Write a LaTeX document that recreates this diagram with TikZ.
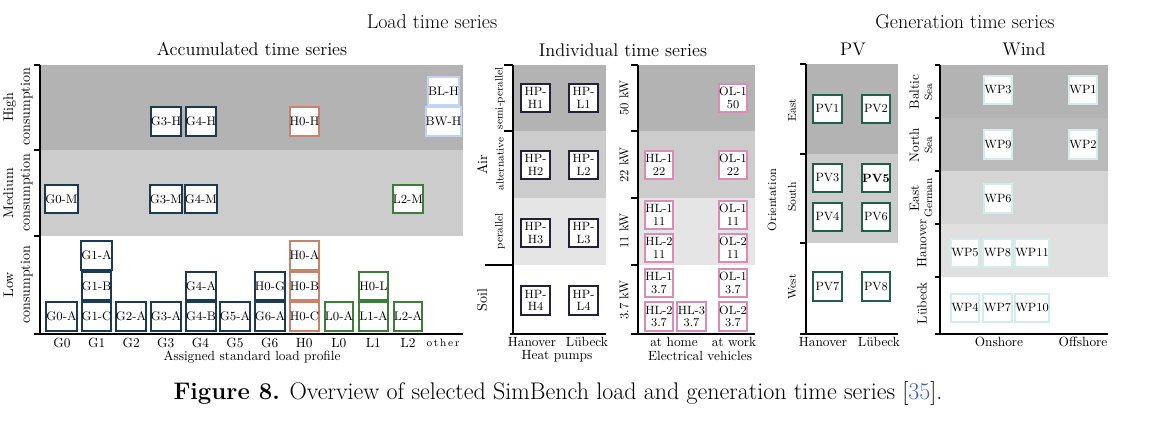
\documentclass[tikz,border=0pt]{standalone}
\usepackage{fontspec}
\usepackage{tikz}
\usepackage{amsmath}

\definecolor{gcol}{RGB}{30,58,82}
\definecolor{hcol}{RGB}{200,130,110}
\definecolor{lcol}{RGB}{60,125,58}
\definecolor{bcol}{RGB}{195,211,242}
\definecolor{hpcol}{RGB}{34,32,60}
\definecolor{evcol}{RGB}{217,140,181}
\definecolor{pvcol}{RGB}{31,95,75}
\definecolor{wpcol}{RGB}{211,236,236}
\definecolor{bandA}{RGB}{179,179,179}
\definecolor{bandB}{RGB}{204,204,204}
\definecolor{bandC}{RGB}{229,229,229}
\definecolor{windB}{RGB}{186,186,186}
\definecolor{windC}{RGB}{213,213,213}
\definecolor{windD}{RGB}{224,224,224}
\definecolor{citecol}{RGB}{59,95,196}

\tikzset{
  maintitle/.style={font=\fontsize{15}{17}\selectfont},
  subtitle/.style={font=\fontsize{13.7}{15}\selectfont},
  axislabel/.style={font=\fontsize{10}{11}\selectfont},
  sidelabel/.style={rotate=90, align=center, font=\fontsize{10.5}{12.5}\selectfont},
  smalllabel/.style={rotate=90, font=\fontsize{8}{9}\selectfont},
  axisline/.style={line width=0.8pt},
  profbox/.style={draw=#1, fill=white, line width=1.5pt, minimum width=21.5pt,
    minimum height=21.5pt, inner sep=0pt, font=\fontsize{9.3}{10}\selectfont},
  twobox/.style={profbox=#1, align=center, font=\fontsize{9}{9.5}\selectfont},
  genbox/.style={profbox=#1, font=\fontsize{9}{10}\selectfont}
}

\begin{document}
\begin{tikzpicture}[x=0.75pt,y=-0.75pt]
\useasboundingbox (0,0) rectangle (1158,424);

% titles
\node[maintitle] (loadtitle) at (432,22) {Load time series};
\node[maintitle] (gentitle)  at (965,22) {Generation time series};
\node[subtitle] (acctitle) at (252,49) {Accumulated time series};
\node[subtitle] (indtitle) at (623,50) {Individual time series};
\node[subtitle] (pvtitle)  at (853,49) {PV};
\node[subtitle] (windtitle) at (1024,49) {Wind};

% accumulated time series
\fill[bandA] (40,65) rectangle (463,150);
\fill[bandB] (40,150) rectangle (463,236);
\draw[axisline] (40,65) -- (40,334);
\draw[axisline] (34,334) -- (463,334);
\draw[axisline] (34,65) -- (40,65);
\draw[axisline] (34,150) -- (40,150);
\draw[axisline] (34,236) -- (40,236);
\node[sidelabel] (highlbl) at (18,107) {High\\consumption};
\node[sidelabel] (medlbl)  at (18,193) {Medium\\consumption};
\node[sidelabel] (lowlbl)  at (18,285) {Low\\consumption};
\foreach \lbl [count=\i from 0] in {G0,G1,G2,G3,G4,G5,G6,H0,L0,L1,L2}
  \node[axislabel] (col\lbl) at ({62+34.6*\i},343) {\lbl};
\node[axislabel, font=\fontsize{8}{9}\selectfont] (colother) at (443,343) {o\,t\,h\,e\,r};
\node[axislabel] (slplbl) at (252,357) {Assigned standard load profile};

% high consumption
\node[profbox=gcol] (g3h) at (166,121.5) {G3-H};
\node[profbox=gcol] (g4h) at (201,121.5) {G4-H};
\node[profbox=hcol] (h0h) at (304.5,121.5) {H0-H};
\node[profbox=bcol] (blh) at (443.5,91) {BL-H};
\node[profbox=bcol] (bwh) at (443.5,121.5) {BW-H};

% medium consumption
\node[profbox=gcol] (g0m) at (61.5,199) {G0-M};
\node[profbox=gcol] (g3m) at (166,199) {G3-M};
\node[profbox=gcol] (g4m) at (201,199) {G4-M};
\node[profbox=lcol] (l2m) at (408,199) {L2-M};

% low consumption
\node[profbox=gcol] (g0a) at (61.5,316.5) {G0-A};
\node[profbox=gcol] (g1c) at (96.5,316.5) {G1-C};
\node[profbox=gcol] (g1b) at (96.5,286) {G1-B};
\node[profbox=gcol] (g1a) at (96.5,255.5) {G1-A};
\node[profbox=gcol] (g2a) at (131,316.5) {G2-A};
\node[profbox=gcol] (g3a) at (166,316.5) {G3-A};
\node[profbox=gcol] (g4b) at (201,316.5) {G4-B};
\node[profbox=gcol] (g4a) at (201,286) {G4-A};
\node[profbox=gcol] (g5a) at (235,316.5) {G5-A};
\node[profbox=gcol] (g6a) at (270,316.5) {G6-A};
\node[profbox=gcol] (h0g) at (270,286) {H0-G};
\node[profbox=hcol] (h0c) at (304.5,316.5) {H0-C};
\node[profbox=hcol] (h0b) at (304.5,286) {H0-B};
\node[profbox=hcol] (h0a) at (304.5,255.5) {H0-A};
\node[profbox=lcol] (l0a) at (339,316.5) {L0-A};
\node[profbox=lcol] (l1a) at (373.5,316.5) {L1-A};
\node[profbox=lcol] (h0l) at (373.5,286) {H0-L};
\node[profbox=lcol] (l2a) at (408,316.5) {L2-A};

% heat pumps
\fill[bandA] (513,65) rectangle (606,131);
\fill[bandB] (513,131) rectangle (606,198);
\fill[bandC] (513,198) rectangle (606,265);
\draw[axisline] (513,65) -- (513,334);
\draw[axisline] (510,334) -- (606,334);
\draw[axisline] (504,65) -- (513,65);
\draw[axisline] (504,131) -- (513,131);
\draw[axisline] (485,265) -- (513,265);
\node[smalllabel] (semilbl) at (500,98) {semi-perallel};
\node[smalllabel] (altlbl)  at (500,164) {alternative};
\node[smalllabel] (parlbl)  at (500,231) {perallel};
\node[sidelabel] (airlbl)  at (482,165) {Air};
\node[sidelabel] (soillbl) at (482,300) {Soil};
\node[twobox=hpcol] (hph1) at (535.5,98) {HP-\\H1};
\node[twobox=hpcol] (hpl1) at (583.5,98) {HP-\\L1};
\node[twobox=hpcol] (hph2) at (535.5,165) {HP-\\H2};
\node[twobox=hpcol] (hpl2) at (583.5,165) {HP-\\L2};
\node[twobox=hpcol] (hph3) at (535.5,233) {HP-\\H3};
\node[twobox=hpcol] (hpl3) at (583.5,233) {HP-\\L3};
\node[twobox=hpcol] (hph4) at (535.5,300.5) {HP-\\H4};
\node[twobox=hpcol] (hpl4) at (583.5,300.5) {HP-\\L4};
\node[axislabel] (hanhp) at (532,342) {Hanover};
\node[axislabel] (luehp) at (587,342) {Lübeck};
\node[axislabel] (hplbl) at (557,356) {Heat pumps};

% electrical vehicles
\fill[bandA] (638,65) rectangle (755,131);
\fill[bandB] (638,131) rectangle (755,198);
\fill[bandC] (638,198) rectangle (755,265);
\draw[axisline] (638,65) -- (638,334);
\draw[axisline] (631,334) -- (755,334);
\draw[axisline] (631,65) -- (638,65);
\draw[axisline] (631,131) -- (638,131);
\draw[axisline] (631,198) -- (638,198);
\draw[axisline] (631,265) -- (638,265);
\node[sidelabel, font=\fontsize{9.5}{11}\selectfont] (kw50) at (624,98) {50 kW};
\node[sidelabel, font=\fontsize{9.5}{11}\selectfont] (kw22) at (624,165) {22 kW};
\node[sidelabel, font=\fontsize{9.5}{11}\selectfont] (kw11) at (624,231) {11 kW};
\node[sidelabel, font=\fontsize{9.5}{11}\selectfont] (kw37) at (624,300) {3.7 kW};
\node[twobox=evcol] (ol150) at (733,98) {OL-1\\50};
\node[twobox=evcol] (hl122) at (659,165) {HL-1\\22};
\node[twobox=evcol] (ol122) at (733,165) {OL-1\\22};
\node[twobox=evcol] (hl111) at (659,215) {HL-1\\11};
\node[twobox=evcol] (ol111) at (733,215) {OL-1\\11};
\node[twobox=evcol] (hl211) at (659,248) {HL-2\\11};
\node[twobox=evcol] (ol211) at (733,248) {OL-2\\11};
\node[twobox=evcol] (hl137) at (659,283) {HL-1\\3.7};
\node[twobox=evcol] (ol137) at (733,283) {OL-1\\3.7};
\node[twobox=evcol] (hl237) at (659,316.5) {HL-2\\3.7};
\node[twobox=evcol] (hl337) at (691.5,316.5) {HL-3\\3.7};
\node[twobox=evcol] (ol237) at (733,316.5) {OL-2\\3.7};
\node[axislabel] (athome) at (674,342) {at home};
\node[axislabel] (atwork) at (734,342) {at work};
\node[axislabel] (evlbl)  at (700,356) {Electrical vehicles};

% PV
\fill[bandA] (806,64) rectangle (898,154);
\fill[bandB] (806,154) rectangle (898,243);
\draw[line width=1.2pt] (806,64) -- (806,334);
\draw[axisline] (800,334) -- (898,334);
\draw[line width=1.2pt] (800,64) -- (806,64);
\draw[line width=1.2pt] (800,154) -- (806,154);
\draw[line width=1.2pt] (800,243) -- (806,243);
\node[smalllabel, font=\fontsize{8.5}{9}\selectfont] (eastlbl)  at (792,110) {East};
\node[smalllabel, font=\fontsize{8.5}{9}\selectfont] (southlbl) at (792,197) {South};
\node[smalllabel, font=\fontsize{8.5}{9}\selectfont] (westlbl)  at (792,287) {West};
\node[sidelabel, font=\fontsize{9}{10}\selectfont] (orientlbl) at (772,200) {Orientation};
\node[genbox=pvcol] (pv1) at (827.5,109) {PV1};
\node[genbox=pvcol] (pv2) at (876,109) {PV2};
\node[genbox=pvcol] (pv3) at (827.5,178) {PV3};
\node[genbox=pvcol] (pv5) at (876,178) {\bfseries PV5};
\node[genbox=pvcol] (pv4) at (827.5,217) {PV4};
\node[genbox=pvcol] (pv6) at (876,217) {PV6};
\node[genbox=pvcol] (pv7) at (827.5,286.5) {PV7};
\node[genbox=pvcol] (pv8) at (876,286.5) {PV8};
\node[axislabel] (hanpv) at (823,342) {Hanover};
\node[axislabel] (luepv) at (879,342) {Lübeck};

% wind
\fill[bandA] (940,65) rectangle (1108,118);
\fill[windB] (940,118) rectangle (1108,171);
\fill[windC] (940,171) rectangle (1108,224);
\fill[windD] (940,224) rectangle (1108,277);
\draw[axisline] (940,65) -- (940,334);
\draw[axisline] (935,334) -- (1108,334);
\draw[axisline] (935,65) -- (940,65);
\draw[axisline] (935,118) -- (940,118);
\draw[axisline] (935,171) -- (940,171);
\draw[axisline] (935,224) -- (940,224);
\draw[axisline] (935,277) -- (940,277);
\node[sidelabel, font=\fontsize{10}{11}\selectfont] (baltlbl) at (921,92)
  {Baltic\\[-1pt]{\fontsize{8}{9}\selectfont Sea}};
\node[sidelabel, font=\fontsize{10}{11}\selectfont] (northlbl) at (921,145)
  {North\\[-1pt]{\fontsize{8}{9}\selectfont Sea}};
\node[sidelabel, font=\fontsize{10}{11}\selectfont] (egerlbl) at (921,198)
  {East\\[-1pt]{\fontsize{8}{9}\selectfont German}};
\node[sidelabel, font=\fontsize{10}{11}\selectfont] (hanwlbl) at (922,243) {Hanover};
\node[sidelabel, font=\fontsize{10}{11}\selectfont] (luewlbl) at (922,303) {Lübeck};
\node[genbox=wpcol] (wp3) at (998,90) {WP3};
\node[genbox=wpcol] (wp1) at (1083,90) {WP1};
\node[genbox=wpcol] (wp9) at (998,144.5) {WP9};
\node[genbox=wpcol] (wp2) at (1083,144.5) {WP2};
\node[genbox=wpcol] (wp6) at (998,198.5) {WP6};
\node[genbox=wpcol] (wp5) at (965,253) {WP5};
\node[genbox=wpcol] (wp8) at (997.5,253) {WP8};
\node[genbox=wpcol] (wp11) at (1032,253) {WP11};
\node[genbox=wpcol] (wp4) at (965,308) {WP4};
\node[genbox=wpcol] (wp7) at (997.5,308) {WP7};
\node[genbox=wpcol] (wp10) at (1032,308) {WP10};
\node[axislabel] (onshore)  at (999,342) {Onshore};
\node[axislabel] (offshore) at (1083,342) {Offshore};

% caption
\node[font=\fontsize{18}{20}\selectfont] (caption) at (558,393)
  {\textbf{Figure 8.} Overview of selected SimBench load and generation time series [{\color{citecol}35}].};
\end{tikzpicture}
\end{document}
